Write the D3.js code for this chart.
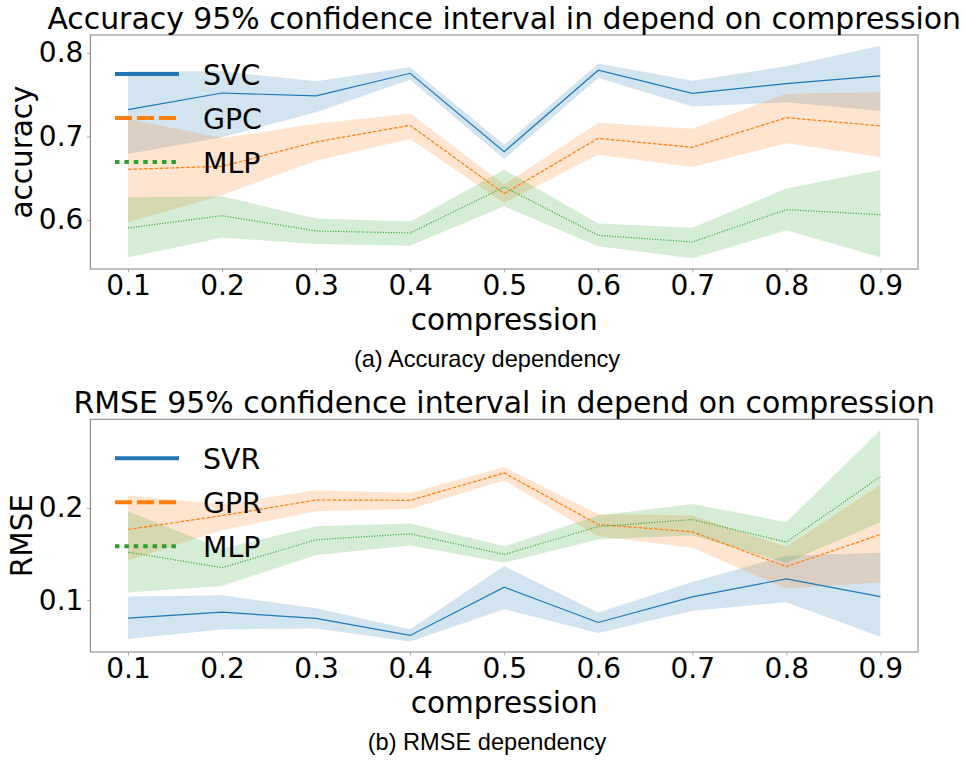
<!DOCTYPE html>
<html>
<head>
	<meta charset="utf-8">
	<script src="https://d3js.org/d3.v7.min.js"></script>
	<style>
		body { margin: 0; background: white; }
		svg text { font-family: "DejaVu Sans", sans-serif; fill: black; }
		.caption { font-family: "Liberation Sans", Arial, sans-serif !important; }
	</style>
</head>
<body>
	<svg width="966" height="760"></svg>
	<script>
		// compression levels (x axis)
		const compression = [0.1, 0.2, 0.3, 0.4, 0.5, 0.6, 0.7, 0.8, 0.9];

		// (a) accuracy: mean and 95% band per model
		const svcMean = [0.732, 0.752, 0.7485, 0.7756, 0.6818, 0.7792, 0.7516, 0.7632, 0.7724];
		const svcLow  = [0.679, 0.699, 0.729, 0.768, 0.673, 0.770, 0.7357, 0.7408, 0.7305];
		const svcHigh = [0.778, 0.778, 0.766, 0.7828, 0.690, 0.7872, 0.7668, 0.784, 0.8087];

		const gpcMean = [0.6606, 0.6642, 0.6934, 0.7133, 0.6315, 0.6977, 0.687, 0.7225, 0.7126];
		const gpcLow  = [0.5976, 0.6295, 0.671, 0.697, 0.6204, 0.678, 0.6635, 0.6917, 0.6754];
		const gpcHigh = [0.721, 0.698, 0.7153, 0.7273, 0.6423, 0.7165, 0.7093, 0.751, 0.7528];

		const mlpAccMean = [0.5904, 0.6051, 0.5868, 0.5844, 0.6395, 0.5816, 0.5736, 0.6123, 0.6063];
		const mlpAccLow  = [0.5552, 0.5788, 0.5712, 0.5692, 0.6163, 0.5684, 0.554, 0.5876, 0.5552];
		const mlpAccHigh = [0.627, 0.6283, 0.6016, 0.598, 0.6602, 0.5956, 0.5908, 0.6375, 0.6599];

		// (b) RMSE: mean and 95% band per model
		const svrMean = [0.0806, 0.0871, 0.0803, 0.0619, 0.1142, 0.0759, 0.1036, 0.1232, 0.104];
		const svrLow  = [0.0579, 0.0684, 0.0695, 0.0554, 0.0903, 0.0644, 0.0885, 0.0978, 0.0604];
		const svrHigh = [0.104, 0.1054, 0.0914, 0.0687, 0.137, 0.0867, 0.1197, 0.1482, 0.1514];

		const gprMean = [0.1766, 0.1917, 0.2086, 0.2082, 0.2378, 0.182, 0.1741, 0.1364, 0.1712];
		const gprLow  = [0.1431, 0.1758, 0.1964, 0.1989, 0.2298, 0.1694, 0.1568, 0.1126, 0.1191];
		const gprHigh = [0.2133, 0.204, 0.219, 0.2162, 0.2442, 0.1935, 0.1917, 0.158, 0.2251];

		const mlpRmseMean = [0.1521, 0.1353, 0.1655, 0.1719, 0.1496, 0.1798, 0.1874, 0.163, 0.2338];
		const mlpRmseLow  = [0.1083, 0.1154, 0.1489, 0.1593, 0.1406, 0.1658, 0.1701, 0.1406, 0.1845];
		const mlpRmseHigh = [0.1964, 0.1558, 0.1802, 0.1831, 0.1586, 0.1917, 0.2043, 0.1845, 0.2845];

		const accTicks = [0.6, 0.7, 0.8];
		const rmseTicks = [0.1, 0.2];

		const colors = ["#1f77b4", "#ff7f0e", "#2ca02c"];
		const lineDash = [null, "3.7,1.6", "1,1.65"];
		const legendDash = [null, "17,5", "4.5,4.9"];

		const svg = d3.select("svg");
		const left = 90.4, right = 918;

		function panel(opt) {
			const top = opt.top, bottom = opt.bottom;
			const g = svg.append("g");

			const x = d3.scaleLinear().domain([0.06, 0.94]).range([left, right]);
			const allVals = opt.series.flatMap(s => s.low.concat(s.high));
			const lo = d3.min(allVals), hi = d3.max(allVals), pad = (hi - lo) * 0.05;
			const y = d3.scaleLinear().domain([lo - pad, hi + pad]).range([bottom, top]);

			const clipId = "clip" + opt.id;
			g.append("clipPath").attr("id", clipId)
			.append("rect").attr("x", left).attr("y", top).attr("width", right - left).attr("height", bottom - top);

			const plot = g.append("g").attr("clip-path", `url(#${clipId})`);

			// bands
			opt.series.forEach((s, i) => {
				const rows = compression.map((c, k) => ({c: c, lo: s.low[k], hi: s.high[k]}));
				plot.append("path")
				.datum(rows)
				.attr("fill", colors[i])
				.attr("fill-opacity", 0.2)
				.attr("d", d3.area().x(d => x(d.c)).y0(d => y(d.lo)).y1(d => y(d.hi)));
			});

			// mean lines
			opt.series.forEach((s, i) => {
				const rows = compression.map((c, k) => ({c: c, v: s.mean[k]}));
				plot.append("path")
				.datum(rows)
				.attr("fill", "none")
				.attr("stroke", colors[i])
				.attr("stroke-width", 1.2)
				.attr("stroke-dasharray", lineDash[i])
				.attr("d", d3.line().x(d => x(d.c)).y(d => y(d.v)));
			});

			// axes
			const xa = g.append("g")
			.attr("transform", `translate(0,${bottom})`)
			.call(d3.axisBottom(x).tickValues(compression).tickFormat(d3.format(".1f")).tickSize(3.5).tickPadding(3));
			const ya = g.append("g")
			.attr("transform", `translate(${left},0)`)
			.call(d3.axisLeft(y).tickValues(opt.ticks).tickFormat(d3.format(".1f")).tickSize(3.5).tickPadding(3.5));
			[xa, ya].forEach(a => {
				a.select(".domain").remove();
				a.selectAll(".tick line").attr("stroke", "#999").attr("stroke-width", 0.8);
				a.selectAll(".tick text").style("font-size", "28px").attr("fill", "black");
			});

			// frame
			g.append("rect")
			.attr("x", left).attr("y", top).attr("width", right - left).attr("height", bottom - top)
			.attr("fill", "none").attr("stroke", "#808080").attr("stroke-width", 1);

			// legend
			opt.series.forEach((s, i) => {
				const ly = top + 39 + i * 44;
				g.append("line")
				.attr("x1", 115).attr("x2", 179).attr("y1", ly).attr("y2", ly)
				.attr("stroke", colors[i]).attr("stroke-width", 4)
				.attr("stroke-dasharray", legendDash[i]);
				g.append("text")
				.attr("x", 203).attr("y", ly + 10.5)
				.style("font-size", "28.4px")
				.text(s.name);
			});

			// titles and labels
			const cx = (left + right) / 2;
			g.append("text").attr("x", cx).attr("y", top - 6).attr("text-anchor", "middle")
			.style("font-size", "29.9px").text(opt.title);
			g.append("text").attr("x", cx).attr("y", bottom + 61).attr("text-anchor", "middle")
			.style("font-size", "29.5px").text("compression");
			g.append("text")
			.attr("transform", `translate(31.5,${(top + bottom) / 2}) rotate(-90)`)
			.attr("text-anchor", "middle")
			.style("font-size", "29.5px").text(opt.ylabel);
			g.append("text").attr("class", "caption").attr("x", 487).attr("y", bottom + 98).attr("text-anchor", "middle")
			.style("font-size", "23.6px").text(opt.caption);
		}

		panel({
			id: "a", top: 35, bottom: 269,
			title: "Accuracy 95% confidence interval in depend on compression",
			ylabel: "accuracy", caption: "(a) Accuracy dependency", ticks: accTicks,
			series: [
				{name: "SVC", mean: svcMean, low: svcLow, high: svcHigh},
				{name: "GPC", mean: gpcMean, low: gpcLow, high: gpcHigh},
				{name: "MLP", mean: mlpAccMean, low: mlpAccLow, high: mlpAccHigh}
			]
		});

		panel({
			id: "b", top: 419.3, bottom: 652,
			title: "RMSE 95% confidence interval in depend on compression",
			ylabel: "RMSE", caption: "(b) RMSE dependency", ticks: rmseTicks,
			series: [
				{name: "SVR", mean: svrMean, low: svrLow, high: svrHigh},
				{name: "GPR", mean: gprMean, low: gprLow, high: gprHigh},
				{name: "MLP", mean: mlpRmseMean, low: mlpRmseLow, high: mlpRmseHigh}
			]
		});
	</script>
</body>
</html>
